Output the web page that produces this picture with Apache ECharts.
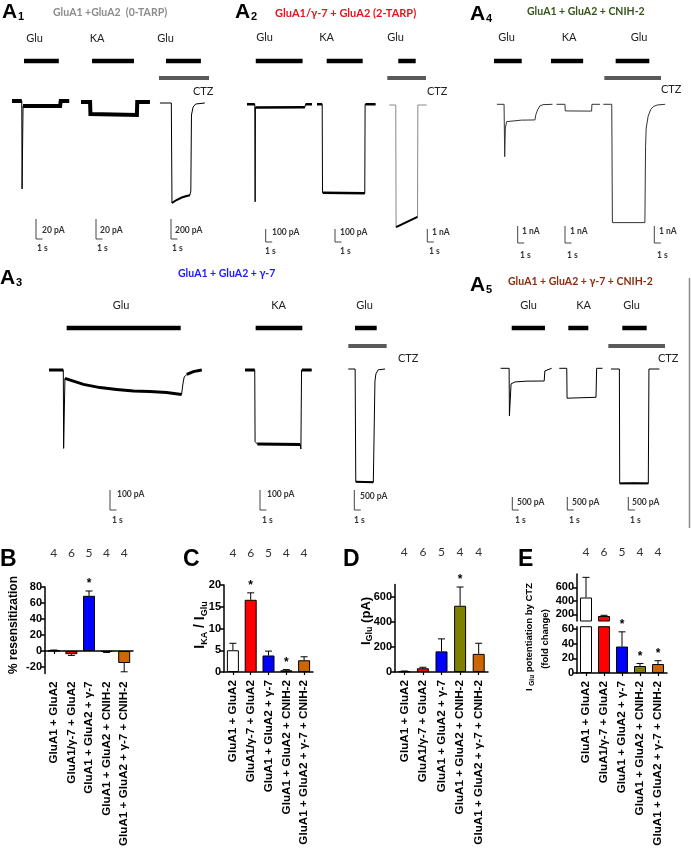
<!DOCTYPE html>
<html>
<head>
<meta charset="utf-8">
<script src="https://cdn.jsdelivr.net/npm/echarts@6/dist/echarts.min.js"></script>
<style>
html,body{margin:0;padding:0;background:#fff}
#chart{width:691px;height:853px}
</style>
</head>
<body>
<div id="chart"></div>
<script>
// ---- bar chart data (B-E) ----
var groups = ['GluA1 + GluA2', 'GluA1/γ-7 + GluA2', 'GluA1 + GluA2 + γ-7', 'GluA1 + GluA2 + CNIH-2', 'GluA1 + GluA2 + γ-7 + CNIH-2'];
var nCells = ['4', '6', '5', '4', '4'];
var barColors = ['#ffffff', '#ff0000', '#0000ff', '#808000', '#cc6600'];

var resens = [0.5, -4, 69, -1, -15];
var resensErr = [1.2, -5.5, 75, -1.8, -26];
var resensSig = [0, 0, 1, 0, 0];

var kaRatio = [5, 16.6, 3.8, 0.4, 2.7];
var kaRatioErr = [6.6, 18.2, 4.8, 0.55, 3.5];
var kaRatioSig = [0, 1, 0, 1, 0];

var gluAmp = [5, 30, 165, 530, 145];
var gluAmpErr = [8, 38, 265, 680, 230];
var gluAmpSig = [0, 0, 0, 1, 0];

var ctzFold = [450, 175, 36, 9.5, 12.2];
var ctzFoldErr = [750, 185, 56, 13, 16.7];
var ctzFoldSig = [0, 0, 1, 1, 1];

// ---- current traces (time s, current pA) ----
var a1GluTrace = [[0,0],[1.5,0],[1.55,-88],[1.7,-5],[7.4,-5],[7.5,0],[8.8,0]];
var a1GluNoise = [[0,0],[1.5,0],[1.6,'-'],[1.7,-5],[7.4,-5],[7.5,0],[8.8,0]];
var a1GluPulse = [1.85, 7.2];
var a1KaTrace = [[0,0],[1.4,0],[1.45,-12],[8.6,-13],[8.65,0],[10.6,0]];
var a1KaPulse = [1.7, 8.15];
var a1CtzTrace = [[0.3,0],[2.05,0],[2.15,-1000],[2.85,-970],[3.65,-945],[4.4,-930],[4.9,-922],[5.05,-880],[5.15,-120],[5.4,-40],[5.8,-10],[7.2,0]];
var a1CtzNoise = [[2.15,-1000],[2.85,-970],[3.65,-945],[4.4,-930],[4.9,-922]];
var a1CtzGlu = [1.23, 6.6];
var a1CtzPulse = [0.15, 7.85];

var a2GluTrace = [[0,0],[1.2,0],[1.25,-750],[1.3,-25],[8.9,-23],[9.0,0],[10.0,0]];
var a2GluNoise = [[0,0],[1.2,0],[1.25,'-'],[1.3,-25],[8.9,-23],[8.95,'-'],[9.0,0],[10.0,0]];
var a2GluPulse = [1.35, 8.55];
var a2KaTrace = [[0,0],[0.8,0],[0.85,-680],[7.35,-685],[7.4,0],[9.0,0]];
var a2KaNoise = [[0,0],[0.8,0],[0.85,'-'],[0.9,-680],[7.35,-685],[7.4,'-'],[7.45,0],[9.0,0]];
var a2KaPulse = [1.49, 7.03];
var a2CtzTrace = [[0.5,0],[1.5,0],[1.55,-9400],[4.85,-8600],[4.9,0],[6.25,0]];
var a2CtzNoise = [[1.55,-9400],[4.85,-8600]];
var a2CtzGlu = [1.89, 4.57];
var a2CtzPulse = [0.2, 6.15];

var a4GluTrace = [[0.6,0],[1.7,0],[1.8,-3080],[1.9,-1400],[2.1,-1020],[4.4,-930],[6.45,-920],[6.6,-600],[6.86,-330],[7.2,-100],[7.7,-20],[9.15,0]];
var a4GluPulse = [0.15, 4.42];
var a4KaTrace = [[1.0,0],[2.3,0],[2.35,-390],[6.4,-400],[6.45,0],[7.7,0]];
var a4KaPulse = [0.15, 5.1];
var a4CtzTrace = [[0.2,0],[1.5,0],[1.6,-6960],[6.6,-6960],[6.7,-2500],[6.8,-1400],[7.1,-700],[7.5,-300],[7.9,-130],[8.5,-40],[9.7,0]];
var a4CtzGlu = [2.1, 7.28];
var a4CtzPulse = [0.36, 9.08];

var a3GluTrace = [[0,0],[2.2,0],[2.25,-392],[2.45,-42],[5.3,-72],[7.85,-88],[10.4,-97],[13,-105],[15.5,-108],[18.1,-113],[20.4,-122],[20.6,-70],[20.8,-35],[21.2,-22],[22.2,-8],[23.5,0]];
var a3GluNoise = [[0,0],[2.2,0],[2.3,'-'],[2.45,-42],[5.3,-72],[7.85,-88],[10.4,-97],[13,-105],[15.5,-108],[18.1,-113],[20.4,-122],[20.5,'-'],[21.2,-22],[22.2,-8],[23.5,0]];
var a3GluPulse = [2.72, 20.26];
var a3KaTrace = [[0,0],[1.5,0],[1.55,-358],[1.9,-370],[8.5,-372],[8.6,-395],[8.7,0],[10.25,0]];
var a3KaNoise = [[0,0],[1.5,0],[1.55,'-'],[1.9,-370],[8.5,-372],[8.6,'-'],[8.75,0],[10.25,0]];
var a3KaPulse = [1.64, 8.82];
var a3CtzTrace = [[0.2,0],[1.25,0],[1.35,-2820],[4.05,-2830],[4.3,-300],[4.45,-120],[4.8,-20],[5.85,0]];
var a3CtzNoise = [[1.35,-2820],[4.05,-2830]];
var a3CtzGlu = [1.23, 4.57];
var a3CtzPulse = [0.2, 6.1];

var a5GluTrace = [[0.1,0],[1.4,0],[1.45,-1830],[1.7,-600],[2.3,-525],[4,-495],[6.8,-488],[6.9,-100],[7.1,-30],[7.95,0]];
var a5GluPulse = [1.8, 6.92];
var a5KaTrace = [[0.35,0],[1.5,0],[1.55,-1150],[6.0,-1115],[6.1,0],[7.0,0]];
var a5KaPulse = [1.74, 4.82];
var a5CtzTrace = [[0.45,0],[1.75,0],[1.8,-4400],[4,-4380],[6.2,-4400],[6.3,0],[7.9,0]];
var a5CtzNoise = [[1.8,-4400],[6.2,-4400]];
var a5CtzGlu = [2.2, 5.95];
var a5CtzPulse = [0.05, 8.77];

// ---- layout of the sweeps (px placement, px per pA, scale bar corner) ----
var PPS = 6.5;
var sweepLayout = [
  {x0:12, y0:101, ppu:1, w:9.5, top:56, trace:a1GluTrace, noise:a1GluNoise, nw:4, pulse:a1GluPulse, sb:[36,239], amp:20},
  {x0:81, y0:102, ppu:1, w:11, top:56, trace:a1KaTrace, noise:a1KaTrace, nw:4, pulse:a1KaPulse, sb:[96,239], amp:20},
  {x0:158, y0:103, ppu:0.1, w:8.5, top:56, trace:a1CtzTrace, noise:a1CtzNoise, nw:2, pulse:a1CtzGlu, ctz:a1CtzPulse, sb:[171,239], amp:200},
  {x0:247, y0:104.3, ppu:0.13, w:10.5, top:56, trace:a2GluTrace, noise:a2GluNoise, nw:2.5, pulse:a2GluPulse, sb:[265.7,242], amp:100},
  {x0:317, y0:104.3, ppu:0.13, w:9.5, top:56, trace:a2KaTrace, noise:a2KaNoise, nw:2.5, pulse:a2KaPulse, sb:[335,242], amp:100},
  {x0:386, y0:105, ppu:0.013, w:7.6, top:56, trace:a2CtzTrace, noise:a2CtzNoise, nw:2, color:'#8a8a8a', pulse:a2CtzGlu, ctz:a2CtzPulse, sb:[427.3,242], amp:1000},
  {x0:493, y0:104.3, ppu:0.017, w:9.5, top:56, trace:a4GluTrace, color:'#333', pulse:a4GluPulse, sb:[517.7,243], amp:1000},
  {x0:550, y0:104.3, ppu:0.017, w:8, top:56, trace:a4KaTrace, color:'#333', pulse:a4KaPulse, sb:[565,243], amp:1000},
  {x0:602, y0:104.3, ppu:0.017, w:10, top:56, trace:a4CtzTrace, color:'#333', pulse:a4CtzGlu, ctz:a4CtzPulse, sb:[654.3,243], amp:1000},
  {x0:49, y0:370, ppu:0.2, w:24, top:323, trace:a3GluTrace, noise:a3GluNoise, nw:3, pulse:a3GluPulse, sb:[110,510], amp:100},
  {x0:245, y0:370, ppu:0.2, w:10.5, top:323, trace:a3KaTrace, noise:a3KaNoise, nw:3, pulse:a3KaPulse, sb:[260,510], amp:100},
  {x0:347, y0:369, ppu:0.04, w:6.2, top:323, trace:a3CtzTrace, noise:a3CtzNoise, nw:2, pulse:a3CtzGlu, ctz:a3CtzPulse, sb:[354.3,510], amp:500},
  {x0:500, y0:368.3, ppu:0.026, w:8.2, top:323, trace:a5GluTrace, pulse:a5GluPulse, sb:[512.3,510], amp:500},
  {x0:557, y0:368.3, ppu:0.026, w:7.3, top:323, trace:a5KaTrace, pulse:a5KaPulse, sb:[567.3,510], amp:500},
  {x0:608, y0:369, ppu:0.026, w:9, top:323, trace:a5CtzTrace, noise:a5CtzNoise, nw:2, pulse:a5CtzGlu, ctz:a5CtzPulse, sb:[628.3,510], amp:500}
];

var grid = [], xAxis = [], yAxis = [], series = [];

function lineSeries(xi, yi, data, width, color, z) {
  series.push({
    type: 'line', xAxisIndex: xi, yAxisIndex: yi, data: data,
    symbol: 'none', silent: true, z: z || 2,
    lineStyle: {width: width, color: color, cap: 'butt', join: 'miter'}
  });
}

sweepLayout.forEach(function (s) {
  var gi = grid.length;
  var bottom = s.sb[1] + 3;
  grid.push({left: s.x0, top: s.top, width: s.w * PPS, height: bottom - s.top});
  var xi = xAxis.length, yi = yAxis.length;
  xAxis.push({gridIndex: gi, type: 'value', min: 0, max: s.w, show: false});
  yAxis.push({gridIndex: gi, type: 'value', min: (s.y0 - bottom) / s.ppu, max: (s.y0 - s.top) / s.ppu, show: false});
  var col = s.color || '#000';
  lineSeries(xi, yi, s.trace, 1, col);
  if (s.noise) lineSeries(xi, yi, s.noise, s.nw, '#000', 3);
  var blackLvl = (s.y0 - (s.top + 5)) / s.ppu;
  lineSeries(xi, yi, [[s.pulse[0], blackLvl], [s.pulse[1], blackLvl]], 4.5, '#000');
  if (s.ctz) {
    var grayLvl = (s.y0 - (s.top + (s.top > 100 ? 23 : 22))) / s.ppu;
    lineSeries(xi, yi, [[s.ctz[0], grayLvl], [s.ctz[1], grayLvl]], 4, '#5a5a5a');
  }
  var t = (s.sb[0] - s.x0) / PPS, i0 = (s.y0 - s.sb[1]) / s.ppu;
  lineSeries(xi, yi, [[t, i0 + s.amp], [t, i0], [t + 1, i0]], 1, '#444');
});

// ---- bar panels ----
var axisFont = {fontFamily: 'Liberation Sans', fontWeight: 'bold', fontSize: 11, color: '#000'};
var catFont = {fontFamily: 'Liberation Sans', fontWeight: 'bold', fontSize: 11.7, color: '#000'};

function errItem(params, api) {
  var i = api.value(0), v = api.value(1), e = api.value(2), s = api.value(3);
  var a = api.coord([i, v]), b = api.coord([i, e]);
  var kids = [
    {type: 'line', shape: {x1: a[0], y1: a[1], x2: b[0], y2: b[1]}, style: {stroke: '#000', lineWidth: 1}},
    {type: 'line', shape: {x1: b[0] - 3.5, y1: b[1], x2: b[0] + 3.5, y2: b[1]}, style: {stroke: '#000', lineWidth: 1}}
  ];
  if (s) kids.push({type: 'text', x: b[0], y: b[1] - 7, style: {text: '*', fill: '#000', fontSize: 12, fontFamily: 'Liberation Sans', fontWeight: 'bold', align: 'center', verticalAlign: 'middle'}});
  return {type: 'group', children: kids};
}

function barPanel(c) {
  var gi = grid.length;
  grid.push({left: c.left, top: c.top, width: c.width, height: c.height});
  var yi = yAxis.length;
  yAxis.push({
    gridIndex: gi, type: 'value', min: c.min, max: c.max,
    axisLine: {show: true, lineStyle: {color: '#000', width: 1.5}},
    axisTick: {show: true, length: 4, customValues: c.ticks, lineStyle: {color: '#000', width: 1.5}},
    axisLabel: Object.assign({customValues: c.ticks, margin: 3}, axisFont),
    splitLine: {show: false}
  });
  var xMain = null;
  if (c.zeroLine) {
    xMain = xAxis.length;
    xAxis.push({gridIndex: gi, type: 'category', data: groups,
      axisLine: {show: true, onZero: true, lineStyle: {color: '#000', width: 1.5}},
      axisTick: {show: true, alignWithLabel: true, length: 3, lineStyle: {color: '#000', width: 1.2}},
      axisLabel: {show: false}});
  }
  if (c.labels) {
    var li = xAxis.length;
    xAxis.push({gridIndex: gi, type: 'category', data: groups, position: 'bottom',
      axisLine: {show: !c.zeroLine, onZero: false, lineStyle: {color: '#000', width: 1.5}},
      axisTick: {show: !c.zeroLine, alignWithLabel: true, length: 3, lineStyle: {color: '#000', width: 1.2}},
      axisLabel: Object.assign({rotate: 90, margin: 8, interval: 0}, catFont)});
    if (xMain === null) xMain = li;
  }
  if (c.nMargin) {
    var ni = xAxis.length;
    xAxis.push({gridIndex: gi, type: 'category', data: nCells, position: 'top',
      axisLine: {show: false, onZero: false}, axisTick: {show: false},
      axisLabel: {margin: c.nMargin, fontFamily: 'Lato, "Noto Sans", sans-serif', fontSize: 12, color: '#333', interval: 0}});
    if (xMain === null) xMain = ni;
  }
  series.push({type: 'bar', xAxisIndex: xMain, yAxisIndex: yi, barWidth: 12, silent: true, z: 2,
    itemStyle: {borderColor: '#000', borderWidth: 1},
    data: c.values.map(function (v, i) { return {value: v, itemStyle: {color: barColors[i]}}; })});
  var ed = [];
  c.values.forEach(function (v, i) {
    if (c.keep(v)) ed.push([i, v, c.errs[i], c.sig[i]]);
  });
  series.push({type: 'custom', xAxisIndex: xMain, yAxisIndex: yi, silent: true, z: 4, renderItem: errItem, data: ed});
}

var all = function () { return true; };
barPanel({left: 45, top: 587, width: 88, height: 86.4, min: -28, max: 80, ticks: [-20, 0, 20, 40, 60, 80],
  values: resens, errs: resensErr, sig: resensSig, keep: all, zeroLine: true, labels: true, nMargin: 28});
barPanel({left: 224, top: 585, width: 89, height: 87, min: 0, max: 20, ticks: [0, 5, 10, 15, 20],
  values: kaRatio, errs: kaRatioErr, sig: kaRatioSig, keep: all, labels: true, nMargin: 26});
barPanel({left: 395, top: 584.5, width: 93, height: 87.5, min: 0, max: 700, ticks: [0, 200, 400, 600],
  values: gluAmp, errs: gluAmpErr, sig: gluAmpSig, keep: all, labels: true, nMargin: 26});
barPanel({left: 577, top: 626.7, width: 90, height: 46.3, min: 0, max: 63, ticks: [0, 20, 40, 60],
  values: ctzFold, errs: ctzFoldErr, sig: ctzFoldSig, keep: function (v) { return v <= 63; }, labels: true});
barPanel({left: 577, top: 574, width: 90, height: 47, min: 100, max: 800, ticks: [200, 400, 600],
  values: ctzFold, errs: ctzFoldErr, sig: ctzFoldSig, keep: function (v) { return v > 100; }, nMargin: 16});

// ---- texts ----
var LATO = 'Lato, "Noto Sans", sans-serif';
var ARIAL = '"Liberation Sans", Arial, sans-serif';
function T(text, x, y, o) {
  o = o || {};
  return {type: 'text', x: x, y: y, rotation: o.rot || 0, silent: true, z: 10,
    style: {text: text, fill: o.color || '#000', fontSize: o.size || 11, fontFamily: o.family || LATO,
      fontWeight: o.weight || 'normal', align: o.align || 'left', verticalAlign: 'middle', rich: o.rich}};
}
var texts = [];
// panel letters
[['A', '1', 2, 12], ['A', '2', 235, 12], ['A', '4', 470, 14], ['A', '3', 0, 278], ['A', '5', 470, 285]].forEach(function (p) {
  texts.push(T(p[0], p[2], p[3], {size: 21, weight: 'bold', family: ARIAL}));
  texts.push(T(p[1], p[2] + 16, p[3] + 5, {size: 11, weight: 'bold', family: ARIAL}));
});
[['B', 0, 560], ['C', 183, 560], ['D', 343, 560], ['E', 518, 560]].forEach(function (p) {
  texts.push(T(p[0], p[1], p[2], {size: 23, weight: 'bold', family: ARIAL}));
});
// titles
texts.push(T('GluA1 +GluA2  (0-TARP)', 53, 13, {size: 10.5, weight: 'bold', color: '#8c8c8c'}));
texts.push(T('GluA1/γ-7 + GluA2 (2-TARP)', 275, 13, {size: 11, weight: 'bold', color: '#e8141c'}));
texts.push(T('GluA1 + GluA2 + CNIH-2', 527, 12, {size: 10.5, weight: 'bold', color: '#35531b'}));
texts.push(T('GluA1 + GluA2 + γ-7', 178, 274, {size: 10.5, weight: 'bold', color: '#1a1aff'}));
texts.push(T('GluA1 + GluA2 + γ-7 + CNIH-2', 508, 282, {size: 10.5, weight: 'bold', color: '#8b2c0c'}));
// stimulus labels
[['Glu', 34.5, 38], ['KA', 97, 38], ['Glu', 165.5, 38],
 ['Glu', 264.5, 37], ['KA', 326.5, 37], ['Glu', 395.5, 37],
 ['Glu', 506.5, 37], ['KA', 569, 37], ['Glu', 639, 37],
 ['Glu', 121, 305], ['KA', 278.5, 305], ['Glu', 364.5, 305],
 ['Glu', 528.5, 305], ['KA', 583.5, 305], ['Glu', 631.5, 305]].forEach(function (p) {
  texts.push(T(p[0], p[1], p[2], {size: 11, align: 'center', color: '#222'}));
});
[[193, 91], [427, 91], [661, 89], [398, 358], [658, 358]].forEach(function (p) {
  texts.push(T('CTZ', p[0], p[1], {size: 11, color: '#222'}));
});
// scale bar labels
[['20 pA', 42, 230], ['20 pA', 100, 230], ['200 pA', 175, 230],
 ['100 pA', 272, 232], ['100 pA', 340, 232], ['1 nA', 432, 232],
 ['1 nA', 522, 231], ['1 nA', 570, 231], ['1 nA', 659, 231],
 ['100 pA', 117, 494], ['100 pA', 267, 494], ['500 pA', 360, 496],
 ['500 pA', 517, 502], ['500 pA', 572, 502], ['500 pA', 632, 502],
 ['1 s', 37, 248], ['1 s', 97, 248], ['1 s', 172, 248],
 ['1 s', 265, 251], ['1 s', 340, 251], ['1 s', 429, 251],
 ['1 s', 520, 255], ['1 s', 567, 255], ['1 s', 657, 255],
 ['1 s', 112, 520], ['1 s', 262, 520], ['1 s', 354, 520],
 ['1 s', 515, 520], ['1 s', 569, 520], ['1 s', 630, 520]].forEach(function (p) {
  texts.push(T(p[0], p[1], p[2], {size: 8.5, weight: 'bold', color: '#333'}));
});
// axis titles
var R = Math.PI / 2;
function rich(big, small) {
  return {
    m: {fontSize: big, fontWeight: 'bold', fontFamily: ARIAL, fill: '#000', color: '#000', lineHeight: big + 4},
    s: {fontSize: small, fontWeight: 'bold', fontFamily: ARIAL, fill: '#000', color: '#000', lineHeight: small, verticalAlign: 'bottom'}
  };
}
texts.push(T('% resensitization', 14, 625, {size: 12, weight: 'bold', family: ARIAL, align: 'center', rot: R}));
texts.push(T('{m|I}{s|KA}{m| / I}{s|Glu}', 200, 625, {align: 'center', rot: R, rich: rich(14, 9)}));
texts.push(T('{m|I}{s|Glu}{m| (pA)}', 366, 621, {align: 'center', rot: R, rich: rich(13, 9)}));
texts.push(T('{m|I }{s|Glu}{m| potentiation by CTZ}', 529, 637, {align: 'center', rot: R, rich: rich(9.5, 6.5)}));
texts.push(T('(fold change)', 545, 639, {size: 9.5, weight: 'bold', family: ARIAL, align: 'center', rot: R}));

var graphic = texts.concat([
  {type: 'line', silent: true, shape: {x1: 689.5, y1: 278, x2: 689.5, y2: 528}, style: {stroke: '#8a8a8a', lineWidth: 1.5}}
]);

var chart = echarts.init(document.getElementById('chart'));
chart.setOption({
  animation: false,
  backgroundColor: '#fff',
  grid: grid,
  xAxis: xAxis,
  yAxis: yAxis,
  series: series,
  graphic: graphic
});
</script>
</body>
</html>
